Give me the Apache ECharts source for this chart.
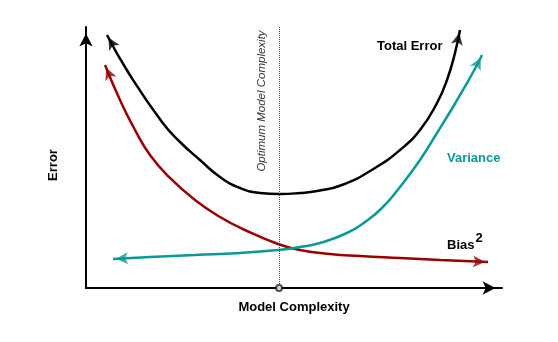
<!DOCTYPE html>
<html><head><meta charset="utf-8">
<script src="https://cdn.jsdelivr.net/npm/echarts@6/dist/echarts.min.js"></script>
<style>html,body{margin:0;padding:0;background:#fff}#c{width:558px;height:342px}</style>
</head><body><div id="c"></div>
<script>
// Model complexity (x, 0-100) and error (y, 0-100)
const totalX = [5.05, 10.1, 18.27, 22.6, 27.4, 32.21, 37.02, 41.83, 46.63, 51.44, 55.53, 61.54, 69.47, 75.48, 80.29, 84.38, 86.78, 88.7, 89.9];
const totalY = [96.93, 82.76, 63.6, 55.94, 49.04, 42.53, 38.31, 36.4, 36.02, 36.4, 37.16, 39.46, 45.98, 52.87, 60.54, 70.88, 79.69, 90.04, 98.85];
const biasX = [4.57, 8.17, 11.78, 15.38, 20.19, 26.2, 32.21, 38.22, 46.15, 51.44, 58.65, 65.87, 75.48, 85.1, 96.63];
const biasY = [85.44, 72.03, 60.54, 50.96, 42.15, 33.72, 27.2, 22.22, 16.86, 14.56, 13.03, 12.26, 11.49, 10.73, 9.96];
const varX = [6.49, 15.38, 26.2, 37.02, 46.15, 51.44, 56.25, 62.74, 67.07, 71.15, 75.48, 80.29, 84.38, 88.22, 91.59, 93.99, 95.19];
const varY = [11.11, 11.88, 12.64, 13.41, 14.56, 15.71, 17.24, 21.07, 25.29, 30.65, 38.7, 49.04, 59.39, 69.35, 78.54, 85.44, 89.27];
const optimumX = 46.4;
const labels = { total: 'Total Error', variance: 'Variance', bias: 'Bias', optimum: 'Optimum Model Complexity', xName: 'Model Complexity', yName: 'Error' };

const FONT = "'Liberation Sans', Arial, Helvetica, sans-serif";
const C_TOTAL = '#000000', C_BIAS = '#990000', C_VAR = '#0a9999';

const zip = (xs, ys) => xs.map((x, i) => [x, ys[i]]);
const chart = echarts.init(document.getElementById('c'), null, { renderer: 'canvas' });

function curve(name, xs, ys, color) {
  return {
    name, type: 'line', data: zip(xs, ys), smooth: 0.5,
    symbol: 'none', clip: false, z: 3,
    lineStyle: { color, width: 2.5 }
  };
}

const option = {
  animation: false,
  backgroundColor: '#fff',
  grid: { left: 86, right: 56, top: 27, bottom: 54 },
  xAxis: {
    type: 'value', min: 0, max: 100,
    axisLine: { show: true, onZero: false, symbol: ['none', 'arrow'], symbolSize: [10, 13], symbolOffset: [0, -6.5], lineStyle: { color: '#000', width: 2 } },
    axisTick: { show: false }, axisLabel: { show: false }, splitLine: { show: false },
    name: labels.xName, nameLocation: 'middle', nameGap: 13,
    nameTextStyle: { fontFamily: FONT, fontWeight: 'bold', fontSize: 13, color: '#000' }
  },
  yAxis: {
    type: 'value', min: 0, max: 100,
    axisLine: { show: true, onZero: false, symbol: ['none', 'arrow'], symbolSize: [10, 13], symbolOffset: [0, -6.5], lineStyle: { color: '#000', width: 2 } },
    axisTick: { show: false }, axisLabel: { show: false }, splitLine: { show: false },
    name: labels.yName, nameLocation: 'middle', nameGap: 26,
    nameTextStyle: { fontFamily: FONT, fontWeight: 'bold', fontSize: 13, color: '#000', padding: [0, 15, 0, 0] }
  },
  series: [
    curve(labels.total, totalX, totalY, C_TOTAL),
    curve(labels.bias, biasX, biasY, C_BIAS),
    curve(labels.variance, varX, varY, C_VAR),
    {
      id: 'optimum', name: 'optimum', type: 'scatter', data: [[optimumX, 0]], symbol: 'emptyCircle', symbolSize: 6, z: 5,
      itemStyle: { color: '#222', borderWidth: 1 },
      markLine: {
        silent: true, symbol: 'none', label: { show: false },
        lineStyle: { type: 'dotted', color: '#444', width: 1 },
        data: [{ xAxis: optimumX }]
      }
    },
    { id: 'arrows', name: 'arrows', type: 'scatter', symbol: 'arrow', symbolSize: [9, 12], z: 6, silent: true, data: [] }
  ],
  graphic: [
    { type: 'text', x: 377, y: 46, style: { text: labels.total, fontFamily: FONT, fontWeight: 'bold', fontSize: 13, fill: C_TOTAL, align: 'left', verticalAlign: 'middle' } },
    { type: 'text', x: 447, y: 158, style: { text: labels.variance, fontFamily: FONT, fontWeight: 'bold', fontSize: 13, fill: C_VAR, align: 'left', verticalAlign: 'middle' } },
    { type: 'text', x: 447, y: 241.5, style: {
        text: '{a|' + labels.bias + '}{b|2}', align: 'left', verticalAlign: 'middle',
        rich: {
          a: { fontFamily: FONT, fontWeight: 'bold', fontSize: 13, color: C_BIAS, padding: [7, 0, 0, 0] },
          b: { fontFamily: FONT, fontWeight: 'bold', fontSize: 13, color: C_BIAS, padding: [0, 0, 7, 1] }
        } } },
    { type: 'text', x: 268, y: 101, rotation: Math.PI / 2, style: { text: labels.optimum, fontFamily: FONT, fontStyle: 'italic', fontSize: 11.5, fill: '#333', align: 'center', verticalAlign: 'bottom' } }
  ]
};
chart.setOption(option);

function arrowItem(xs, ys, atEnd, color) {
  const n = xs.length;
  const i0 = atEnd ? n - 1 : 0, i1 = atEnd ? n - 2 : 1;
  const p0 = chart.convertToPixel({ gridIndex: 0 }, [xs[i0], ys[i0]]);
  const p1 = chart.convertToPixel({ gridIndex: 0 }, [xs[i1], ys[i1]]);
  let dx = p0[0] - p1[0], dy = p0[1] - p1[1];
  const len = Math.hypot(dx, dy); dx /= len; dy /= len;
  const rot = Math.atan2(-dx, -dy) * 180 / Math.PI;
  const back = 3;
  return { value: [xs[i0], ys[i0]], symbolRotate: rot, symbolOffset: [-dx * back, -dy * back], itemStyle: { color } };
}

chart.setOption({
  series: [{
    id: 'arrows',
    data: [
      arrowItem(totalX, totalY, false, C_TOTAL), arrowItem(totalX, totalY, true, C_TOTAL),
      arrowItem(biasX, biasY, false, C_BIAS), arrowItem(biasX, biasY, true, C_BIAS),
      arrowItem(varX, varY, false, C_VAR), arrowItem(varX, varY, true, C_VAR)
    ]
  }]
});
</script></body></html>
